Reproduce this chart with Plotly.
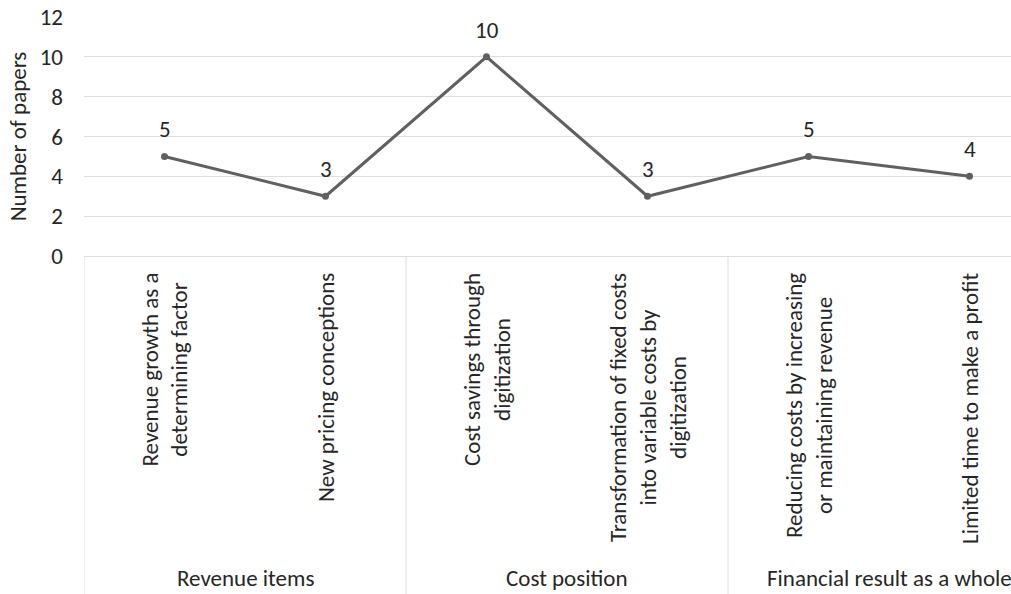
import plotly.graph_objects as go

categories = [
    "Revenue growth as a<br>determining factor",
    "New pricing conceptions",
    "Cost savings through<br>digitization",
    "Transformation of fixed costs<br>into variable costs by<br>digitization",
    "Reducing costs by increasing<br>or maintaining revenue",
    "Limited time to make a profit",
]
values = [5, 3, 10, 3, 5, 4]
groups = ["Revenue items", "Cost position", "Financial result as a whole"]
group_sizes = [2, 2, 2]
y_ticks = [0, 2, 4, 6, 8, 10, 12]

FONT = "Carlito, Lato, sans-serif"
FS = 23
TXT = "#262626"
GRID = "#dedede"

W, H = 1011, 594
ML, MR, MT, MB = 84, 0, 17, 338
PLOT_H = H - MT - MB

fig = go.Figure()
fig.add_trace(go.Scatter(
    x=categories, y=values,
    mode="lines+markers",
    line=dict(color="#606060", width=3),
    marker=dict(color="#606060", size=7),
    cliponaxis=False,
    showlegend=False,
))

# data labels
for c, v in zip(categories, values):
    fig.add_annotation(
        x=c, y=v, xref="x", yref="y", text=str(v), showarrow=False,
        xanchor="center", yanchor="middle", yshift=27,
        font=dict(family=FONT, size=FS, color=TXT),
    )

# category labels (rotated)
for c in categories:
    fig.add_annotation(
        x=c, xref="x", y=-15 / PLOT_H, yref="paper",
        text=c, textangle=-90, showarrow=False,
        xanchor="center", yanchor="top", align="center",
        font=dict(family=FONT, size=FS, color=TXT),
    )

# group labels and separators
start = 0
bottom = -(MB) / PLOT_H
for g, n in zip(groups, group_sizes):
    fig.add_shape(type="line", xref="x", yref="paper",
                  x0=start - 0.5, x1=start - 0.5, y0=0, y1=bottom,
                  line=dict(color=GRID, width=1))
    fig.add_annotation(
        x=start + (n - 1) / 2, xref="x", y=-(578 - 256) / PLOT_H, yref="paper",
        text=g, showarrow=False, xanchor="center", yanchor="middle",
        font=dict(family=FONT, size=FS, color=TXT),
    )
    start += n
fig.add_shape(type="line", xref="x", yref="paper",
              x0=start - 0.5, x1=start - 0.5, y0=0, y1=bottom,
              line=dict(color=GRID, width=1))

fig.update_xaxes(
    type="category", range=[-0.5, -0.5 + (W - ML) / 161.0],
    showticklabels=False, showgrid=False, zeroline=False, showline=False,
)
fig.update_yaxes(
    range=[0, 12], tickvals=y_ticks, showgrid=True, gridcolor=GRID, gridwidth=1,
    zeroline=True, zerolinecolor=GRID, zerolinewidth=1,
    ticks="", ticklabelstandoff=20,
    tickfont=dict(family=FONT, size=FS, color=TXT),
    title=dict(text="Number of papers", font=dict(family=FONT, size=FS, color=TXT), standoff=6),
)
fig.update_layout(
    width=W, height=H,
    margin=dict(l=ML, r=MR, t=MT, b=MB, autoexpand=False),
    plot_bgcolor="white", paper_bgcolor="white",
    font=dict(family=FONT, color=TXT),
)
fig.write_html("out.html", include_plotlyjs=True, config={"displayModeBar": False})
